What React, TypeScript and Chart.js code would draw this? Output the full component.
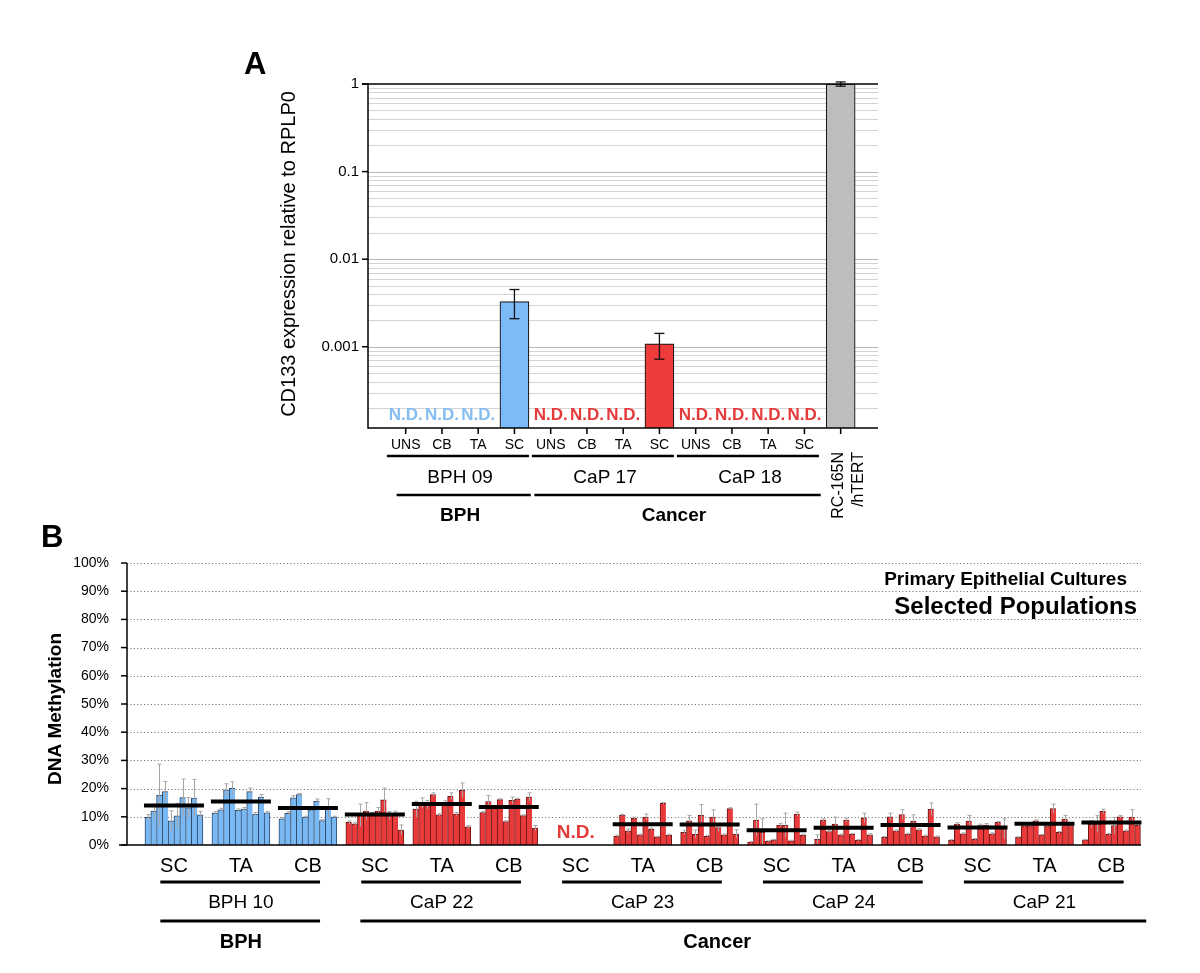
import React, { useEffect, useRef } from "react";
import { Chart, registerables } from "chart.js";

Chart.register(...registerables);

const FONT = '"Liberation Sans", Arial, Helvetica, sans-serif';

/* ---------------- Panel A data ---------------- */
const cellTypesA = ["UNS", "CB", "TA", "SC", "UNS", "CB", "TA", "SC", "UNS", "CB", "TA", "SC", "RC-165N/hTERT"];
const controlLinesA = ["RC-165N", "/hTERT"];
const samplesA = ["BPH 09", "CaP 17", "CaP 18"];
const diseasesA = ["BPH", "Cancer"];
const kindA = ["bph", "bph", "bph", "bph", "cancer", "cancer", "cancer", "cancer", "cancer", "cancer", "cancer", "cancer", "control"];
const exprA: (number | null)[] = [null, null, null, 0.00327, null, null, null, 0.00108, null, null, null, null, 1.0];
const exprLowA: (number | null)[] = [null, null, null, 0.00209, null, null, null, 0.00072, null, null, null, null, 0.945];
const exprHighA: (number | null)[] = [null, null, null, 0.0045, null, null, null, 0.00142, null, null, null, null, 1.055];
const decadesA = [1, 0.1, 0.01, 0.001];
const decadeLabelsA = ["1", "0.1", "0.01", "0.001"];
const yTitleA = "CD133 expression relative to RPLP0";
const ND = "N.D.";

/* ---------------- Panel B data ---------------- */
const subsetsB = ["SC", "TA", "CB"];
const samplesB = ["BPH 10", "CaP 22", "CaP 23", "CaP 24", "CaP 21"];
const kindB = ["bph", "cancer", "cancer", "cancer", "cancer"];
const diseasesB = ["BPH", "Cancer"];
const yTicksB = [0, 10, 20, 30, 40, 50, 60, 70, 80, 90, 100];
const yTitleB = "DNA Methylation";
const legendLine1B = "Primary Epithelial Cultures";
const legendLine2B = "Selected Populations";

const bph10SC = [9.8, 12.0, 17.7, 18.9, 8.6, 10.3, 16.8, 13.2, 16.6, 10.7];
const bph10SCsd = [1.0, 2.5, 11.0, 3.6, 3.5, 4.5, 6.6, 3.6, 6.6, 1.2];
const bph10TA = [11.3, 12.5, 19.6, 20.1, 12.3, 12.7, 18.9, 11.0, 17.0, 11.4];
const bph10TAsd = [0.5, 0.5, 2.1, 2.3, 0.5, 0.6, 1.3, 0.5, 0.9, 0.5];
const bph10CB = [9.3, 11.2, 16.7, 17.9, 9.9, 12.5, 15.5, 8.7, 12.9, 9.9];
const bph10CBsd = [0.4, 0.6, 0.8, 0.4, 0.3, 0.5, 0.8, 0.3, 3.5, 0.3];

const cap22SC = [8.0, 7.5, 10.5, 12.0, 11.0, 12.0, 16.0, 10.5, 10.8, 5.3];
const cap22SCsd = [0.5, 0.5, 4.0, 3.0, 0.5, 1.3, 4.2, 1.4, 1.2, 1.8];
const cap22TA = [12.7, 14.9, 14.3, 17.9, 10.7, 14.9, 17.3, 11.0, 19.4, 6.4];
const cap22TAsd = [2.8, 1.8, 1.5, 0.6, 0.4, 0.8, 1.2, 0.5, 2.6, 0.5];
const cap22CB = [11.5, 15.4, 12.9, 16.1, 8.3, 15.8, 16.3, 10.4, 17.0, 6.0];
const cap22CBsd = [0.4, 2.1, 0.5, 0.3, 0.3, 1.2, 0.3, 0.3, 1.5, 0.9];

const cap23SC: number[] = []; // N.D.
const cap23SCsd: number[] = [];
const cap23TA = [3.2, 10.6, 5.0, 9.5, 3.6, 9.9, 5.6, 2.9, 14.8, 3.5];
const cap23TAsd = [0.3, 0.3, 0.7, 0.4, 0.3, 1.1, 0.4, 0.2, 0.3, 0.3];
const cap23CB = [4.5, 8.6, 3.8, 10.5, 3.1, 9.9, 6.2, 3.6, 12.9, 3.9];
const cap23CBsd = [0.7, 1.9, 1.5, 3.8, 0.3, 2.6, 1.5, 0.3, 0.3, 1.5];

const cap24SC = [1.0, 8.8, 4.5, 1.3, 1.8, 7.1, 7.0, 1.5, 11.0, 3.5];
const cap24SCsd = [0.2, 5.7, 4.8, 0.2, 0.2, 0.6, 4.3, 0.2, 0.7, 0.3];
const cap24TA = [2.0, 8.8, 4.8, 7.4, 3.6, 8.8, 3.8, 1.7, 9.6, 3.6];
const cap24TAsd = [1.6, 0.5, 0.4, 2.5, 0.3, 0.7, 0.3, 0.2, 1.7, 0.4];
const cap24CB = [2.7, 10.0, 5.0, 10.8, 3.9, 8.5, 5.4, 3.2, 12.7, 2.9];
const cap24CBsd = [0.3, 1.3, 0.3, 1.7, 0.3, 2.2, 0.4, 0.3, 2.2, 0.3];

const cap21SC = [1.7, 7.4, 4.0, 8.5, 2.1, 6.9, 7.1, 4.0, 8.0, 5.7];
const cap21SCsd = [0.2, 0.5, 0.3, 2.0, 0.2, 0.5, 0.5, 0.3, 0.3, 3.6];
const cap21TA = [2.7, 6.8, 6.8, 8.6, 3.6, 6.8, 12.9, 4.5, 9.2, 6.9];
const cap21TAsd = [0.2, 0.3, 0.3, 0.3, 0.2, 0.3, 1.6, 0.3, 1.3, 0.3];
const cap21CB = [1.8, 7.4, 7.4, 11.9, 3.8, 6.9, 10.0, 5.0, 9.9, 7.0];
const cap21CBsd = [0.2, 1.3, 3.0, 0.8, 0.3, 2.9, 0.5, 0.3, 2.6, 0.3];

const meansB: (number | null)[] = [14.0, 15.4, 13.1, 10.8, 14.5, 13.5, null, 7.4, 7.3, 5.2, 6.1, 7.1, 6.2, 7.5, 8.0];

const groupsB = [bph10SC, bph10TA, bph10CB, cap22SC, cap22TA, cap22CB, cap23SC, cap23TA, cap23CB, cap24SC, cap24TA, cap24CB, cap21SC, cap21TA, cap21CB];
const groupSdB = [bph10SCsd, bph10TAsd, bph10CBsd, cap22SCsd, cap22TAsd, cap22CBsd, cap23SCsd, cap23TAsd, cap23CBsd, cap24SCsd, cap24TAsd, cap24CBsd, cap21SCsd, cap21TAsd, cap21CBsd];

/* ---------------- layout / style constants ---------------- */
const W = 1200;
const H = 973;
const Y_MIN_A = 1.18e-4;
const X_MIN_A = -1.04;
const X_MAX_A = 13.03;
const X_MAX_B = 174.9;
const U0_B = 8.1; // centre of first group (in bar-slot units)
const STRIDE_B = 11.55; // group spacing (in bar-slot units)
const BARS_PER_GROUP = 10;

const fillA: Record<string, string> = { bph: "#7dbbf8", cancer: "#ee3b3b", control: "#bdbdbd" };
const ndColor: Record<string, string> = { bph: "#86bdf0", cancer: "#e53a3a" };
const fillB: Record<string, string> = { bph: "#7ab8f3", cancer: "#e8393b" };
const edgeB: Record<string, string> = { bph: "#2c4a6e", cancer: "#6b1414" };

const gridValuesA: number[] = [];
for (let e = -4; e <= -1; e++) {
  for (let m = 1; m <= 9; m++) {
    const v = parseFloat((m * Math.pow(10, e)).toPrecision(3));
    if (v >= Y_MIN_A) gridValuesA.push(v);
  }
}

function line(ctx: CanvasRenderingContext2D, x1: number, y1: number, x2: number, y2: number) {
  ctx.beginPath();
  ctx.moveTo(x1, y1);
  ctx.lineTo(x2, y2);
  ctx.stroke();
}

function text(
  ctx: CanvasRenderingContext2D,
  s: string,
  x: number,
  y: number,
  font: string,
  align: CanvasTextAlign = "center",
  color = "#000",
  baseline: CanvasTextBaseline = "middle"
) {
  ctx.font = font;
  ctx.fillStyle = color;
  ctx.textAlign = align;
  ctx.textBaseline = baseline;
  ctx.fillText(s, x, y);
}

/* ---------------- Panel A plugin ---------------- */
const panelAPlugin = {
  id: "panelA",
  beforeDatasetsDraw(chart: any) {
    const { ctx, chartArea: ca, scales } = chart;
    const y = scales.y;
    ctx.save();
    ctx.lineWidth = 1;
    for (const v of gridValuesA) {
      const py = Math.round(y.getPixelForValue(v)) + 0.5;
      const isDec = decadesA.some((d) => Math.abs(d - v) / d < 1e-6);
      ctx.strokeStyle = isDec ? "#b8b8b8" : "#d4d4d4";
      line(ctx, ca.left, py, ca.right, py);
    }
    ctx.restore();
  },
  afterDatasetsDraw(chart: any) {
    const { ctx, chartArea: ca, scales } = chart;
    const x = scales.x;
    const y = scales.y;
    ctx.save();

    // error bars
    ctx.strokeStyle = "#111";
    ctx.lineWidth = 1.3;
    exprA.forEach((v, i) => {
      if (v == null) return;
      const cx = x.getPixelForValue(i);
      const t = y.getPixelForValue(exprHighA[i] as number);
      const b = y.getPixelForValue(exprLowA[i] as number);
      line(ctx, cx, t, cx, b);
      line(ctx, cx - 5, t, cx + 5, t);
      line(ctx, cx - 5, b, cx + 5, b);
    });

    // N.D. labels
    exprA.forEach((v, i) => {
      if (v != null || kindA[i] === "control") return;
      text(ctx, ND, x.getPixelForValue(i), ca.bottom - 13, `bold 17px ${FONT}`, "center", ndColor[kindA[i]]);
    });

    // axes
    ctx.strokeStyle = "#000";
    ctx.lineWidth = 1.5;
    const top = y.getPixelForValue(1);
    line(ctx, ca.left - 6, top, ca.right, top);
    line(ctx, ca.left, ca.top - 1, ca.left, ca.bottom + 0.75);
    line(ctx, ca.left, ca.bottom, ca.right, ca.bottom);
    decadesA.forEach((d) => {
      const py = y.getPixelForValue(d);
      line(ctx, ca.left - 6, py, ca.left, py);
    });
    cellTypesA.forEach((_, i) => {
      const cx = x.getPixelForValue(i);
      line(ctx, cx, ca.bottom, cx, ca.bottom + 6);
    });

    // y tick labels
    decadesA.forEach((d, i) => {
      text(ctx, decadeLabelsA[i], ca.left - 9, y.getPixelForValue(d), `15px ${FONT}`, "right");
    });

    // category labels
    cellTypesA.forEach((c, i) => {
      if (kindA[i] === "control") return;
      text(ctx, c, x.getPixelForValue(i), ca.bottom + 17, `14px ${FONT}`);
    });

    // sample underline + labels
    ctx.lineWidth = 2.5;
    samplesA.forEach((s, si) => {
      const x1 = x.getPixelForValue(si * 4 - 0.52);
      const x2 = x.getPixelForValue(si * 4 + 3.4);
      line(ctx, x1, ca.bottom + 28, x2, ca.bottom + 28);
      text(ctx, s, x.getPixelForValue(si * 4 + 1.5), ca.bottom + 50, `19px ${FONT}`);
    });
    // disease underline + labels
    const dRanges = [
      [-0.25, 3.45],
      [3.55, 11.45],
    ];
    diseasesA.forEach((d, di) => {
      const [a, b] = dRanges[di];
      line(ctx, x.getPixelForValue(a), ca.bottom + 67, x.getPixelForValue(b), ca.bottom + 67);
      text(ctx, d, x.getPixelForValue((a + b) / 2 + (di === 0 ? -0.1 : -0.1)), ca.bottom + 88, `bold 19px ${FONT}`);
    });

    // control label (rotated)
    const ci = cellTypesA.length - 1;
    const cxc = x.getPixelForValue(ci);
    controlLinesA.forEach((s, li) => {
      ctx.save();
      ctx.translate(cxc + 2 + li * 20, ca.bottom + 24);
      ctx.rotate(-Math.PI / 2);
      text(ctx, s, 0, 0, `16px ${FONT}`, "right", "#000", "alphabetic");
      ctx.restore();
    });

    // y title
    ctx.save();
    ctx.translate(289, (ca.top + ca.bottom) / 2 - 2);
    ctx.rotate(-Math.PI / 2);
    text(ctx, yTitleA, 0, 0, `20px ${FONT}`);
    ctx.restore();

    // panel letter
    text(ctx, "A", 244, 74, `bold 31px ${FONT}`, "left", "#000", "alphabetic");

    ctx.restore();
  },
};

/* ---------------- Panel B plugin ---------------- */
function groupCenter(k: number) {
  return U0_B + k * STRIDE_B;
}

const panelBPlugin = {
  id: "panelB",
  beforeDatasetsDraw(chart: any) {
    const { ctx, chartArea: ca, scales } = chart;
    const y = scales.y;
    ctx.save();
    ctx.strokeStyle = "#7a7a7a";
    ctx.lineWidth = 1;
    ctx.setLineDash([1.2, 2.2]);
    yTicksB.forEach((v) => {
      if (v === 0) return;
      const py = Math.round(y.getPixelForValue(v)) + 0.5;
      line(ctx, ca.left, py, ca.right, py);
    });
    ctx.restore();
  },
  afterDatasetsDraw(chart: any) {
    const { ctx, chartArea: ca, scales } = chart;
    const x = scales.x;
    const y = scales.y;
    ctx.save();

    // error bars
    ctx.strokeStyle = "#a6a6a6";
    ctx.lineWidth = 1;
    groupsB.forEach((vals, k) => {
      vals.forEach((v, j) => {
        const sd = groupSdB[k][j];
        const cx = Math.round(x.getPixelForValue(groupCenter(k) + j - (BARS_PER_GROUP - 1) / 2)) + 0.5;
        const t = y.getPixelForValue(v + sd);
        const b = y.getPixelForValue(Math.max(v - sd, 0));
        line(ctx, cx, t, cx, b);
        line(ctx, cx - 2, t, cx + 2, t);
      });
    });

    // mean lines
    ctx.strokeStyle = "#000";
    ctx.lineWidth = 4;
    meansB.forEach((m, k) => {
      if (m == null) return;
      const py = y.getPixelForValue(m);
      line(ctx, x.getPixelForValue(groupCenter(k) - 5) - 1, py, x.getPixelForValue(groupCenter(k) + 5) + 1, py);
    });

    // N.D.
    groupsB.forEach((vals, k) => {
      if (vals.length) return;
      text(ctx, ND, x.getPixelForValue(groupCenter(k)), ca.bottom - 12, `bold 19px ${FONT}`, "center", ndColor.cancer);
    });

    // axes
    ctx.strokeStyle = "#000";
    ctx.lineWidth = 1.5;
    line(ctx, ca.left, ca.top, ca.left, ca.bottom);
    line(ctx, ca.left - 8, ca.bottom, ca.right, ca.bottom);
    yTicksB.forEach((v) => {
      const py = y.getPixelForValue(v);
      line(ctx, ca.left - 6, py, ca.left, py);
      text(ctx, `${v}%`, ca.left - 18, py, `14px ${FONT}`, "right");
    });

    // y title
    ctx.save();
    ctx.translate(56, (ca.top + ca.bottom) / 2 + 5);
    ctx.rotate(-Math.PI / 2);
    text(ctx, yTitleB, 0, 0, `bold 19px ${FONT}`);
    ctx.restore();

    // legend text
    text(ctx, legendLine1B, 1127, 580, `bold 19px ${FONT}`, "right");
    text(ctx, legendLine2B, 1137, 607, `bold 24px ${FONT}`, "right");

    // subset labels
    groupsB.forEach((_, k) => {
      text(ctx, subsetsB[k % 3], x.getPixelForValue(groupCenter(k)), ca.bottom + 21, `20px ${FONT}`);
    });

    // sample underline + labels
    ctx.lineWidth = 2.8;
    samplesB.forEach((s, si) => {
      const x1 = x.getPixelForValue(groupCenter(si * 3) - 2.35);
      const x2 = x.getPixelForValue(groupCenter(si * 3 + 2) + 2.1);
      line(ctx, x1, ca.bottom + 37, x2, ca.bottom + 37);
      text(ctx, s, x.getPixelForValue(groupCenter(si * 3 + 1)), ca.bottom + 58, `19px ${FONT}`);
    });

    // disease underline + labels
    const dr = [
      [groupCenter(0) - 2.35, groupCenter(2) + 2.1],
      [groupCenter(3) - 2.5, groupCenter(14) + 6],
    ];
    diseasesB.forEach((d, di) => {
      const [a, b] = dr[di];
      line(ctx, x.getPixelForValue(a), ca.bottom + 76, x.getPixelForValue(b), ca.bottom + 76);
      const cx = di === 0 ? x.getPixelForValue(groupCenter(1)) : x.getPixelForValue(groupCenter(8) + 1.3);
      text(ctx, d, cx, ca.bottom + 97, `bold 20px ${FONT}`);
    });

    // panel letter
    text(ctx, "B", 41, 547, `bold 31px ${FONT}`, "left", "#000", "alphabetic");

    ctx.restore();
  },
};

/* ---------------- chart builders ---------------- */
function buildA(canvas: HTMLCanvasElement) {
  return new Chart(canvas, {
    type: "bar",
    data: {
      datasets: [
        {
          data: exprA.map((v, i) => ({ x: i, y: v })) as any,
          backgroundColor: kindA.map((k) => fillA[k]),
          borderColor: "#1a1a1a",
          borderWidth: 1.2,
          barThickness: 29,
        },
      ],
    },
    options: {
      animation: false,
      responsive: false,
      devicePixelRatio: 1,
      events: [],
      layout: { padding: { left: 368, top: 84, right: W - 878, bottom: H - 428 }, autoPadding: false } as any,
      plugins: { legend: { display: false }, tooltip: { enabled: false } },
      scales: {
        x: { type: "linear", min: X_MIN_A, max: X_MAX_A, display: false, offset: false },
        y: { type: "logarithmic", min: Y_MIN_A, max: 1, display: false },
      },
    },
    plugins: [panelAPlugin],
  });
}

function buildB(canvas: HTMLCanvasElement) {
  const pts: { x: number; y: number }[] = [];
  const fills: string[] = [];
  const edges: string[] = [];
  const last: boolean[] = [];
  groupsB.forEach((vals, k) => {
    const kind = kindB[Math.floor(k / 3)];
    vals.forEach((v, j) => {
      pts.push({ x: groupCenter(k) + j - (BARS_PER_GROUP - 1) / 2, y: v });
      fills.push(fillB[kind]);
      edges.push(edgeB[kind]);
      last.push(j === vals.length - 1);
    });
  });
  return new Chart(canvas, {
    type: "bar",
    data: {
      datasets: [
        {
          data: pts as any,
          backgroundColor: fills,
          borderColor: edges,
          borderWidth: ((ctx: any) => ({ top: 1, left: 1, right: last[ctx.dataIndex] ? 1 : 0, bottom: 0 })) as any,
          borderSkipped: false,
          barThickness: 5.8,
        },
      ],
    },
    options: {
      animation: false,
      responsive: false,
      devicePixelRatio: 1,
      events: [],
      layout: { padding: { left: 127, top: 563, right: W - 1141, bottom: H - 845 }, autoPadding: false } as any,
      plugins: { legend: { display: false }, tooltip: { enabled: false } },
      scales: {
        x: { type: "linear", min: 0, max: X_MAX_B, display: false, offset: false },
        y: { type: "linear", min: 0, max: 100, display: false },
      },
    },
    plugins: [panelBPlugin],
  });
}

export default function App() {
  const refA = useRef<HTMLCanvasElement>(null);
  const refB = useRef<HTMLCanvasElement>(null);
  useEffect(() => {
    const a = buildA(refA.current as HTMLCanvasElement);
    const b = buildB(refB.current as HTMLCanvasElement);
    return () => {
      a.destroy();
      b.destroy();
    };
  }, []);
  const cs: React.CSSProperties = { position: "absolute", left: 0, top: 0, width: W, height: H };
  return (
    <div style={{ position: "absolute", left: 0, top: 0, width: W, height: H, background: "#fff" }}>
      <canvas ref={refA} width={W} height={H} style={cs} />
      <canvas ref={refB} width={W} height={H} style={cs} />
    </div>
  );
}
